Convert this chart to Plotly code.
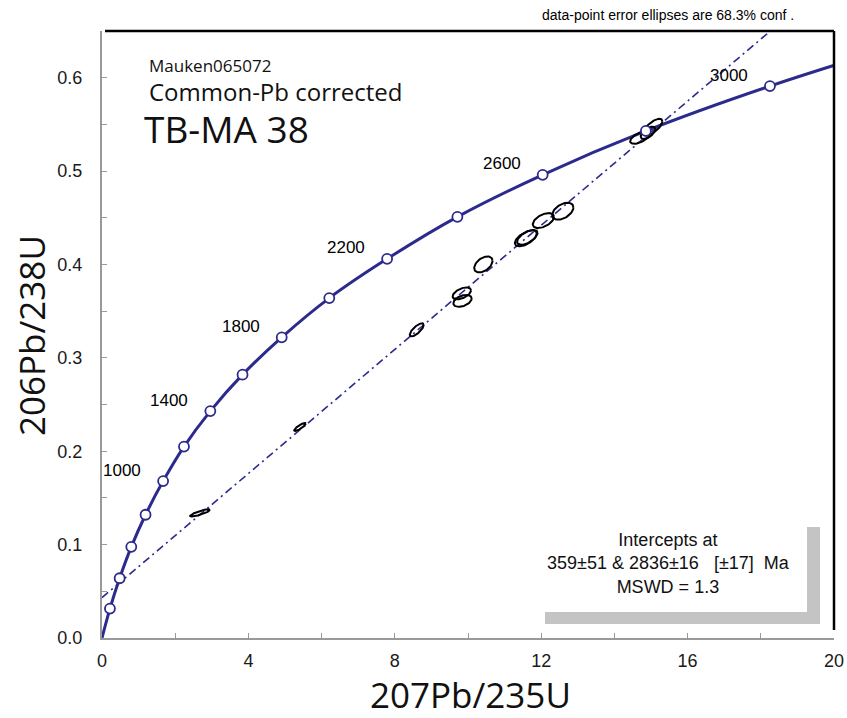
import numpy as np
import plotly.graph_objects as go

# ---------------- data ----------------
# Concordia curve vertices (age in Ma, 207Pb/235U, 206Pb/238U)
conc_age = [0, 200, 400, 600, 800, 1000, 1200, 1400, 1600, 1800, 2000, 2200, 2400, 2600, 2800, 3000, 3200]
conc_x = [0.0, 0.217, 0.482, 0.800, 1.19, 1.67, 2.24, 2.96, 3.84, 4.91, 6.21, 7.79, 9.71, 12.04, 14.86, 18.25, 22.3]
conc_y = [0.0, 0.0315, 0.064, 0.0976, 0.132, 0.168, 0.205, 0.243, 0.282, 0.322, 0.364, 0.406, 0.451, 0.496, 0.543, 0.591, 0.641]
labelled_ages = [1000, 1400, 1800, 2200, 2600, 3000]

# Discordia intercepts (207Pb/235U, 206Pb/238U)
lower_int = (0.424, 0.0573)
upper_int = (15.33, 0.5526)

# Data-point error ellipses: centre x, centre y, half-extent x, half-extent y, correlation
ell_x = [2.68, 5.41, 8.60, 9.83, 9.85, 10.42, 11.58, 11.62, 12.06, 12.59, 14.70, 14.92, 15.05]
ell_y = [0.134, 0.226, 0.330, 0.369, 0.361, 0.400, 0.428, 0.429, 0.447, 0.457, 0.536, 0.541, 0.547]
ell_ex = [0.27, 0.16, 0.19, 0.25, 0.25, 0.25, 0.30, 0.28, 0.29, 0.29, 0.27, 0.20, 0.26]
ell_ey = [0.0038, 0.0043, 0.0070, 0.0064, 0.0064, 0.0086, 0.0086, 0.0080, 0.0080, 0.0091, 0.0068, 0.0066, 0.0090]
ell_rho = [0.85, 0.85, 0.75, 0.5, 0.4, 0.45, 0.6, 0.6, 0.5, 0.45, 0.6, 0.6, 0.7]

x_ticks = [0, 4, 8, 12, 16, 20]
y_ticks = [0.0, 0.1, 0.2, 0.3, 0.4, 0.5, 0.6]

NAVY = "#2c2a8c"
TICKFONT = dict(family="Liberation Sans, Arial", size=18, color="#1a1a1a")
TITLEFONT = dict(family="Open Sans, Noto Sans", size=35, color="#111")

# plot-area geometry (pixels) used to place paper-referenced decorations
L, R, T, B = 102, 834, 31, 638
PW, PH = R - L, B - T


def px(xp):
    return (xp - L) / PW


def py(yp):
    return (B - yp) / PH


fig = go.Figure()

# Discordia (dash-dot line through the two intercepts)
slope = (upper_int[1] - lower_int[1]) / (upper_int[0] - lower_int[0])
dx = [0.0, 20.0]
dy = [lower_int[1] + slope * (v - lower_int[0]) for v in dx]
fig.add_trace(go.Scatter(x=dx, y=dy, mode="lines",
                         line=dict(color=NAVY, width=1.6, dash="8px,4px,2px,4px"),
                         hoverinfo="skip", showlegend=False))

# Concordia curve
fig.add_trace(go.Scatter(x=conc_x, y=conc_y, mode="lines",
                         line=dict(color=NAVY, width=3, shape="spline", smoothing=1.0),
                         hoverinfo="skip", showlegend=False))

# Error ellipses
t = np.linspace(0, 2 * np.pi, 80)
for cx, cy, ex, ey, r in zip(ell_x, ell_y, ell_ex, ell_ey, ell_rho):
    ex_pts = cx + ex * np.cos(t)
    ey_pts = cy + ey * (r * np.cos(t) + np.sqrt(1 - r * r) * np.sin(t))
    fig.add_trace(go.Scatter(x=ex_pts, y=ey_pts, mode="lines",
                             line=dict(color="black", width=2),
                             hoverinfo="skip", showlegend=False))

# Concordia age markers
fig.add_trace(go.Scatter(x=conc_x[1:-1], y=conc_y[1:-1], mode="markers",
                         marker=dict(size=10, color="white", line=dict(color=NAVY, width=1.8)),
                         cliponaxis=False, hoverinfo="skip", showlegend=False))

# Age labels
for age in labelled_ages:
    i = conc_age.index(age)
    fig.add_annotation(x=conc_x[i], y=conc_y[i], text=str(age), showarrow=False,
                       xshift=-41, yshift=11, font=dict(family="Liberation Sans, Arial", size=17, color="black"))

# Texts
fig.add_annotation(xref="paper", yref="paper", x=px(147), y=py(65), xanchor="left", yanchor="middle",
                   text="Mauken065072", showarrow=False, font=dict(family="Open Sans", size=17, color="#111"))
fig.add_annotation(xref="paper", yref="paper", x=px(147), y=py(92), xanchor="left", yanchor="middle",
                   text="Common-Pb corrected", showarrow=False, font=dict(family="Open Sans", size=24, color="#111"))
fig.add_annotation(xref="paper", yref="paper", x=px(142), y=py(128), xanchor="left", yanchor="middle",
                   text="TB-MA 38", showarrow=False, font=dict(family="Open Sans", size=37, color="#111"))
fig.add_annotation(xref="paper", yref="paper", x=px(668), y=py(15), xanchor="center", yanchor="middle",
                   text="data-point error ellipses are 68.3% conf .", showarrow=False,
                   font=dict(family="Liberation Sans, Arial", size=14, color="black"))
fig.add_annotation(xref="paper", yref="paper", x=px(668), y=py(563), xanchor="center", yanchor="middle",
                   text="Intercepts at<br>359±51 & 2836±16   [±17]  Ma<br>MSWD = 1.3", showarrow=False, align="center",
                   font=dict(family="Liberation Sans, Arial", size=18, color="#111"))

# Axis titles
fig.add_annotation(xref="paper", yref="paper", x=px(470), y=py(694), xanchor="center", yanchor="middle",
                   height=30, valign="middle",
                   text="207Pb/235U", showarrow=False, font=TITLEFONT)
fig.add_annotation(xref="paper", yref="paper", x=px(31), y=py(336), xanchor="center", yanchor="middle",
                   text="206Pb/238U", showarrow=False, textangle=-90, font=TITLEFONT)

# Shadow "L" behind the intercept box
SH = "#c4c4c4"
shapes = [
    dict(type="rect", xref="paper", yref="paper", x0=px(545), x1=px(820),
         y0=py(624), y1=py(612), fillcolor=SH, line=dict(width=0), layer="below"),
    dict(type="rect", xref="paper", yref="paper", x0=px(807), x1=px(820),
         y0=py(624), y1=py(527), fillcolor=SH, line=dict(width=0), layer="below"),
    dict(type="line", xref="paper", yref="paper", x0=px(105), x1=1, y0=1, y1=1, line=dict(color="black", width=2.5)),
    dict(type="line", xref="paper", yref="paper", x0=1, x1=1, y0=py(630), y1=1, line=dict(color="black", width=2.5)),
]

fig.update_layout(
    width=847, height=718,
    margin=dict(l=L, r=847 - R, t=T, b=718 - B),
    paper_bgcolor="white", plot_bgcolor="white",
    shapes=shapes,
    xaxis=dict(range=[0, 20], tickvals=x_ticks, ticktext=[str(v) for v in x_ticks],
               ticks="inside", ticklen=5, tickcolor="#999", tickwidth=1,
               minor=dict(dtick=2, tick0=0, ticks="inside", ticklen=5, tickcolor="#999", tickwidth=1),
               showline=True, linecolor="#999", linewidth=2, showgrid=False, zeroline=False,
               tickfont=TICKFONT, ticklabelstandoff=5, automargin=False),
    yaxis=dict(range=[0, 0.65], tickvals=y_ticks, ticktext=[f"{v:.1f}" for v in y_ticks],
               ticks="inside", ticklen=5, tickcolor="#999", tickwidth=1,
               minor=dict(dtick=0.05, tick0=0, ticks="inside", ticklen=5, tickcolor="#999", tickwidth=1),
               showline=True, linecolor="#999", linewidth=2, showgrid=False, zeroline=False,
               tickfont=TICKFONT, ticklabelstandoff=14, automargin=False),
)

fig.write_html("out.html", config={"displayModeBar": False},
               post_script="document.body.style.margin='0px';document.body.style.overflow='hidden';")
